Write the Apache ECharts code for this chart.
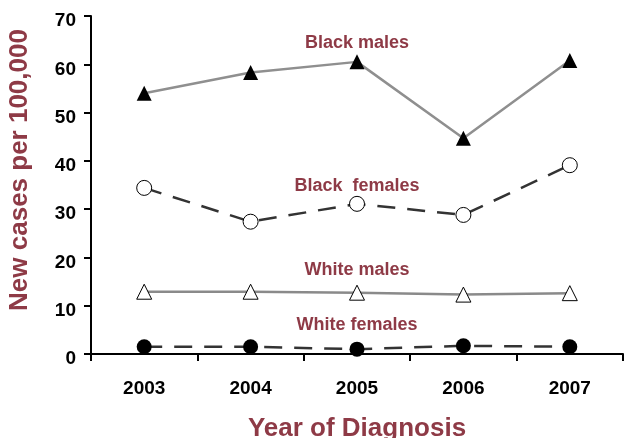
<!DOCTYPE html>
<html>
<head>
<meta charset="utf-8">
<script src="https://cdn.jsdelivr.net/npm/echarts@6/dist/echarts.min.js"></script>
<style>
  html, body { margin: 0; padding: 0; background: #fff; }
  #main { width: 624px; height: 438px; }
</style>
</head>
<body>
<div id="main"></div>
<script>
// data
var years = ['2003', '2004', '2005', '2006', '2007'];
var blackMales = [54.0, 58.3, 60.5, 44.7, 60.8];
var blackFemales = [34.4, 27.4, 31.1, 28.8, 39.1];
var whiteMales = [12.9, 12.9, 12.7, 12.3, 12.6];
var whiteFemales = [1.5, 1.5, 1.0, 1.7, 1.5];
// where each series name sits (category, value)
var labelSpots = {
    'Black males': ['2005', 64.4],
    'Black  females': ['2005', 34.8],
    'White males': ['2005', 17.4],
    'White females': ['2005', 5.9]
};

var maroon = '#8e3a46';
var font = 'Liberation Sans, Arial, sans-serif';

function nameLabel(name) {
    return {
        symbol: 'circle',
        symbolSize: 1,
        silent: true,
        itemStyle: { color: 'rgba(0,0,0,0)' },
        data: [{
            coord: labelSpots[name],
            label: {
                show: true,
                formatter: name,
                color: maroon,
                fontSize: 18,
                fontWeight: 'bold',
                fontFamily: font,
                position: 'inside'
            }
        }]
    };
}

var myChart = echarts.init(document.getElementById('main'));
var option = {
    backgroundColor: '#fff',
    animation: false,
    grid: {
        left: 91,
        top: 16,
        right: 1,
        bottom: 84,
        containLabel: false,
        outerBoundsMode: 'none'
    },
    xAxis: {
        type: 'category',
        data: years,
        boundaryGap: true,
        name: 'Year of Diagnosis',
        nameLocation: 'middle',
        nameGap: 62,
        nameTextStyle: {
            color: maroon,
            fontSize: 26,
            fontWeight: 'bold',
            fontFamily: font
        },
        axisLine: { lineStyle: { color: '#000', width: 2 } },
        axisTick: { show: true, length: 7, lineStyle: { color: '#000', width: 2 } },
        axisLabel: {
            margin: 25,
            color: '#000',
            fontSize: 19,
            fontWeight: 'bold',
            fontFamily: font
        },
        splitLine: { show: false }
    },
    yAxis: {
        type: 'value',
        min: 0,
        max: 70,
        interval: 10,
        name: 'New cases per 100,000',
        nameLocation: 'middle',
        nameGap: 58,
        nameTextStyle: {
            color: maroon,
            fontSize: 26,
            fontWeight: 'bold',
            fontFamily: font,
            padding: [0, 0, 0, 30]
        },
        axisLine: { show: true, lineStyle: { color: '#000', width: 2 } },
        axisTick: { show: true, length: 7, lineStyle: { color: '#000', width: 2 } },
        axisLabel: {
            margin: 15,
            color: '#000',
            fontSize: 19,
            fontWeight: 'bold',
            fontFamily: font,
            verticalAlign: 'top',
            lineHeight: 10
        },
        splitLine: { show: false }
    },
    series: [
        {
            name: 'Black males',
            type: 'line',
            data: blackMales,
            symbol: 'triangle',
            symbolSize: 15,
            itemStyle: { color: '#000' },
            lineStyle: { color: '#8f8f8f', width: 2.5 },
            markPoint: nameLabel('Black males')
        },
        {
            name: 'Black  females',
            type: 'line',
            data: blackFemales,
            symbol: 'circle',
            symbolSize: 15,
            itemStyle: { color: '#fff', borderColor: '#000', borderWidth: 1 },
            lineStyle: { color: '#333', width: 2.5, type: [18, 12] },
            markPoint: nameLabel('Black  females')
        },
        {
            name: 'White males',
            type: 'line',
            data: whiteMales,
            symbol: 'triangle',
            symbolSize: 15,
            itemStyle: { color: '#fff', borderColor: '#000', borderWidth: 1 },
            lineStyle: { color: '#8a8a8a', width: 2.5 },
            markPoint: nameLabel('White males')
        },
        {
            name: 'White females',
            type: 'line',
            data: whiteFemales,
            symbol: 'circle',
            symbolSize: 15,
            itemStyle: { color: '#000' },
            lineStyle: { color: '#333', width: 2.5, type: [18, 12] },
            markPoint: nameLabel('White females')
        }
    ]
};
myChart.setOption(option);
</script>
</body>
</html>
